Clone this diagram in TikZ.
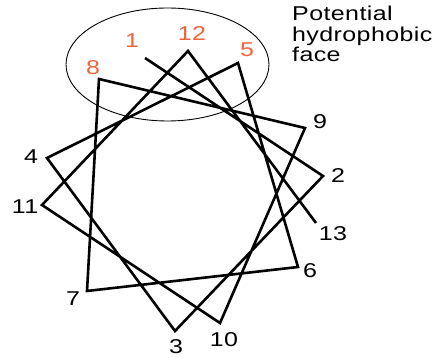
\documentclass[tikz,border=0pt]{standalone}
\usepackage{fontspec}
\usepackage{tikz}
\usetikzlibrary{positioning}
\newfontfamily\wheelfont[FakeStretch=1.25, LetterSpace=2]{Liberation Sans}
\definecolor{hydro}{HTML}{F0643C}
\definecolor{ink}{HTML}{000000}

\begin{document}
\begin{tikzpicture}[x=1pt, y=-1pt,
    resnum/.style={font=\wheelfont\fontsize{20}{20.5}\selectfont, inner sep=0pt},
    chain/.style={ink, line width=2.6pt, line join=miter},
    face/.style={ink, line width=0.9pt}]
    \useasboundingbox (0,0) rectangle (432,358);
    % hydrophobic face
    \draw[face] (167.5,64.5) ellipse[x radius=101.5, y radius=56.5];
    \node[resnum, anchor=north west, align=left] (facelab) at (292,6)
      {Potential\\hydrophobic\\face};
    % residue positions
    \foreach \n/\vx/\vy/\lx/\ly in {2/323/176/338/176, 3/175/331/176/347,
        4/47/158/31/157, 6/298/267/310/271, 7/87/291/73/299,
        9/305/128/320/122, 10/220/323/224/340, 11/42/205/25/207,
        13/316/223/333/234}{
      \coordinate (r\n) at (\vx,\vy);
      \node[resnum] (l\n) at (\lx,\ly) {\n};}
    \foreach \n/\vx/\vy/\lx/\ly in {1/145/58/132/41, 5/238/63/247/50,
        8/99/79/93/68, 12/188/51/192/34}{
      \coordinate (r\n) at (\vx,\vy);
      \node[resnum, hydro] (l\n) at (\lx,\ly) {\n};}
    % helix path
    \draw[chain] (r1) -- (r2) -- (r3) -- (r4) -- (r5) -- (r6) -- (r7)
      -- (r8) -- (r9) -- (r10) -- (r11) -- (r12) -- (r13);
  \end{tikzpicture}
\end{document}
